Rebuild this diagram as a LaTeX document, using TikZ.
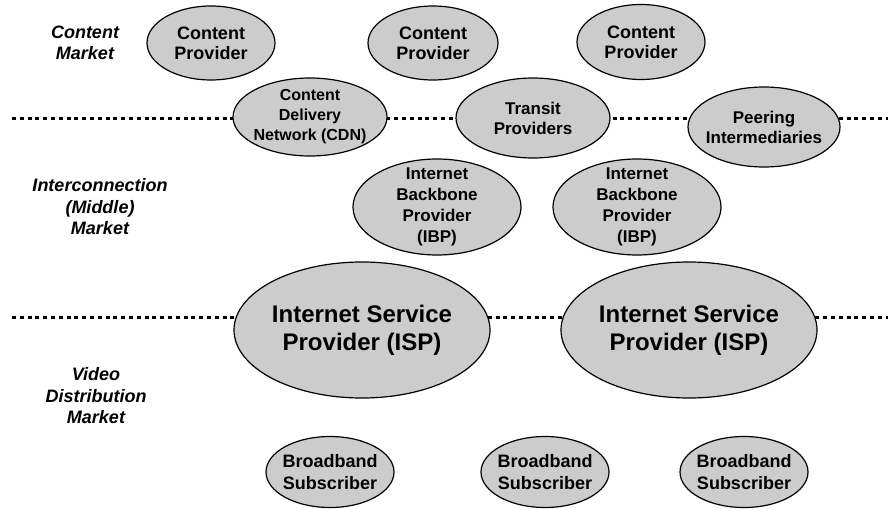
\documentclass[tikz,border=0pt]{standalone}
\usepackage{fontspec}
\setmainfont{Liberation Sans}
\usetikzlibrary{shapes.geometric}
\definecolor{ovalfill}{RGB}{204,204,204}

\begin{document}
\begin{tikzpicture}[x=1pt, y=-1pt,
    oval/.style={ellipse, draw, fill=ovalfill, line width=1.2pt, inner sep=-12pt, align=center,
        font=\bfseries\fontsize{17}{20}\selectfont},
    marketlabel/.style={align=center, font=\bfseries\itshape\fontsize{18}{21.5}\selectfont},
    divider/.style={line width=3pt, dash pattern=on 4pt off 3.8pt}]
    % Fix the page to the size of the reference
    \useasboundingbox (0,0) rectangle (890,508);

    % Dotted dividers between the three markets
    \coordinate (topL) at (12,118);
    \coordinate (topR) at (888,118);
    \coordinate (lowL) at (12,317);
    \coordinate (lowR) at (888,317);
    \draw[divider] (topL) -- (topR);
    \draw[divider] (lowL) -- (lowR);

    % Market names on the left
    \node[marketlabel] (contentmkt) at (85,43) {Content\\Market};
    \node[marketlabel] (middlemkt) at (100,207) {Interconnection\\(Middle)\\Market};
    \node[marketlabel] (videomkt) at (96,396) {Video\\Distribution\\Market};

    % Content providers
    \node[oval, minimum width=128pt, minimum height=74pt, font=\bfseries\fontsize{18}{20}\selectfont]
        (cp1) at (211,43) {Content\\Provider};
    \node[oval, minimum width=130pt, minimum height=74pt, font=\bfseries\fontsize{18}{20}\selectfont]
        (cp2) at (433,43) {Content\\Provider};
    \node[oval, minimum width=128pt, minimum height=75pt, font=\bfseries\fontsize{18}{20}\selectfont]
        (cp3) at (641,42) {Content\\Provider};

    % Intermediaries sitting on the upper divider
    \node[oval, minimum width=154pt, minimum height=78pt, font=\bfseries\fontsize{16}{20}\selectfont]
        (cdn) at (310,117) {Content\\Delivery\\Network (CDN)};
    \node[oval, minimum width=154pt, minimum height=80pt] (transit) at (533,118) {Transit\\Providers};
    \node[oval, minimum width=152pt, minimum height=80pt] (peering) at (764,127) {Peering\\Intermediaries};

    % Backbone providers
    \node[oval, minimum width=168pt, minimum height=96pt, font=\bfseries\fontsize{17}{21}\selectfont]
        (ibp1) at (437,207) {Internet\\Backbone\\Provider\\(IBP)};
    \node[oval, minimum width=168pt, minimum height=96pt, font=\bfseries\fontsize{17}{21}\selectfont]
        (ibp2) at (637,207) {Internet\\Backbone\\Provider\\(IBP)};

    % Access providers on the lower divider
    \node[oval, minimum width=256pt, minimum height=136pt, font=\bfseries\fontsize{24}{28}\selectfont]
        (isp1) at (362,330) {Internet Service\\Provider (ISP)};
    \node[oval, minimum width=256pt, minimum height=136pt, font=\bfseries\fontsize{24}{28}\selectfont]
        (isp2) at (689,330) {Internet Service\\Provider (ISP)};

    % Subscribers at the bottom
    \node[oval, minimum width=128pt, minimum height=71pt, font=\bfseries\fontsize{18}{22}\selectfont]
        (bb1) at (330,472) {Broadband\\Subscriber};
    \node[oval, minimum width=128pt, minimum height=71pt, font=\bfseries\fontsize{18}{22}\selectfont]
        (bb2) at (545,472) {Broadband\\Subscriber};
    \node[oval, minimum width=128pt, minimum height=71pt, font=\bfseries\fontsize{18}{22}\selectfont]
        (bb3) at (744,472) {Broadband\\Subscriber};
\end{tikzpicture}
\end{document}
